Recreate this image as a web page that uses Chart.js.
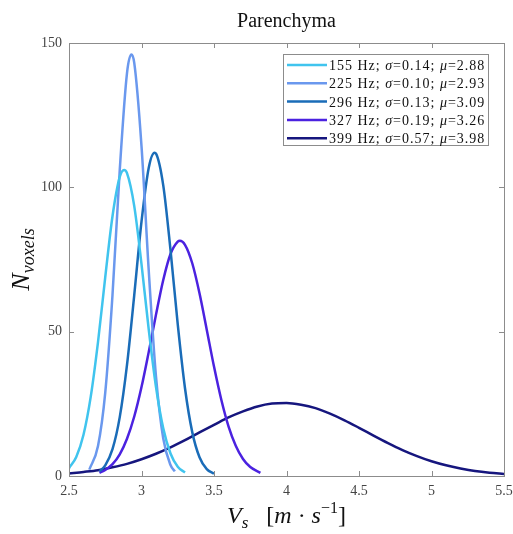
<!DOCTYPE html>
<html>
<head>
<meta charset="utf-8">
<script src="https://cdn.jsdelivr.net/npm/chart.js@4.4.1/dist/chart.umd.min.js"></script>
<style>
  html, body { margin: 0; padding: 0; background: #fff; }
  #wrap { width: 513px; height: 534px; }
</style>
</head>
<body>
<div id="wrap"><canvas id="chart"></canvas></div>
<script>
// legend info
const freqs = [155, 225, 296, 327, 399];
const sigmas = ['0.14', '0.10', '0.13', '0.19', '0.57'];
const mus = ['2.88', '2.93', '3.09', '3.26', '3.98'];
const colors = ['#40c4ee', '#6a98ee', '#1a6cb8', '#4b22e0', '#16167e'];

// curves (Vs in m/s, voxel count)
const vs155 = [2.50, 2.55, 2.60, 2.65, 2.70, 2.75, 2.80, 2.85, 2.88, 2.90, 2.95, 3.00, 3.05, 3.10, 3.15, 3.20, 3.25, 3.30];
const n155  = [2.7, 6.6, 14.3, 27.5, 46.4, 68.9, 90.0, 103.6, 106.0, 104.9, 93.5, 73.4, 50.7, 30.8, 16.5, 7.8, 3.2, 1.2];

const vs225 = [2.64, 2.70, 2.75, 2.80, 2.85, 2.90, 2.93, 2.95, 3.00, 3.05, 3.10, 3.15, 3.20, 3.23];
const n225  = [2.2, 10.4, 28.9, 62.7, 106.0, 139.6, 146.0, 143.1, 114.3, 71.1, 34.4, 13.0, 3.8, 1.6];

const vs296 = [2.71, 2.75, 2.80, 2.85, 2.90, 2.95, 3.00, 3.05, 3.09, 3.10, 3.15, 3.20, 3.25, 3.30, 3.35, 3.40, 3.45, 3.50];
const n296  = [1.6, 3.7, 9.3, 20.4, 38.5, 62.7, 88.1, 106.8, 112.0, 111.7, 100.7, 78.3, 52.5, 30.4, 15.2, 6.5, 2.4, 0.8];

const vs327 = [2.71, 2.75, 2.80, 2.85, 2.90, 2.95, 3.00, 3.05, 3.10, 3.15, 3.20, 3.25, 3.265, 3.30, 3.35, 3.40, 3.45, 3.50, 3.55, 3.60, 3.65, 3.70, 3.75, 3.82];
const n327  = [1.1, 2.1, 4.1, 7.5, 12.9, 20.6, 30.8, 43.0, 55.9, 67.9, 76.9, 81.2, 81.5, 80.1, 73.7, 63.3, 50.7, 37.9, 26.5, 17.2, 10.5, 5.9, 3.1, 1.1];

const vs399 = [2.5, 2.6, 2.7, 2.8, 2.9, 3.0, 3.1, 3.2, 3.3, 3.4, 3.5, 3.6, 3.7, 3.8, 3.9, 4.0, 4.1, 4.2, 4.3, 4.4, 4.5, 4.6, 4.7, 4.8, 4.9, 5.0, 5.1, 5.2, 5.3, 5.4, 5.5];
const n399  = [0.9, 1.4, 2.0, 3.0, 4.2, 5.8, 7.7, 9.9, 12.4, 15.1, 17.7, 20.3, 22.4, 24.1, 25.1, 25.3, 24.7, 23.5, 21.6, 19.3, 16.7, 14.0, 11.4, 9.0, 6.9, 5.1, 3.7, 2.6, 1.7, 1.1, 0.7];

const xs = [vs155, vs225, vs296, vs327, vs399];
const ys = [n155, n225, n296, n327, n399];

const SERIF = '"Liberation Serif", "DejaVu Serif", serif';

// draw a row of text pieces with their own font and vertical shift
function drawRuns(ctx, runs, x, y, align) {
  let total = 0;
  runs.forEach(r => { ctx.font = r.font; total += ctx.measureText(r.t).width; });
  let cx = align === 'center' ? x - total / 2 : x;
  ctx.textAlign = 'left';
  ctx.textBaseline = 'alphabetic';
  runs.forEach(r => {
    ctx.font = r.font;
    ctx.fillText(r.t, cx, y + (r.dy || 0));
    cx += ctx.measureText(r.t).width;
  });
}

const decorPlugin = {
  id: 'decor',
  afterDraw(chart) {
    const { ctx, chartArea: a, scales } = chart;
    ctx.save();

    // box + inward ticks
    ctx.strokeStyle = '#8c8c8c';
    ctx.lineWidth = 1;
    ctx.strokeRect(a.left + 0.5, a.top + 0.5, a.right - a.left, a.bottom - a.top);
    ctx.beginPath();
    scales.x.ticks.forEach(t => {
      const px = Math.round(scales.x.getPixelForValue(t.value)) + 0.5;
      ctx.moveTo(px, a.bottom); ctx.lineTo(px, a.bottom - 5);
      ctx.moveTo(px, a.top); ctx.lineTo(px, a.top + 5);
    });
    scales.y.ticks.forEach(t => {
      const py = Math.round(scales.y.getPixelForValue(t.value)) + 0.5;
      ctx.moveTo(a.left, py); ctx.lineTo(a.left + 5, py);
      ctx.moveTo(a.right, py); ctx.lineTo(a.right - 5, py);
    });
    ctx.stroke();

    ctx.fillStyle = '#111';
    // title
    ctx.font = '20px ' + SERIF;
    ctx.textAlign = 'center';
    ctx.textBaseline = 'middle';
    ctx.fillText('Parenchyma', (a.left + a.right) / 2, 22);

    // x axis title
    drawRuns(ctx, [
      { t: 'V', font: 'italic 24px ' + SERIF },
      { t: 's', font: 'italic 17px ' + SERIF, dy: 5 },
      { t: '   [', font: '24px ' + SERIF },
      { t: 'm', font: 'italic 24px ' + SERIF },
      { t: ' · ', font: '24px ' + SERIF },
      { t: 's', font: 'italic 24px ' + SERIF },
      { t: '−1', font: '16px ' + SERIF, dy: -10 },
      { t: ']', font: '24px ' + SERIF }
    ], (a.left + a.right) / 2, 523, 'center');

    // y axis title
    ctx.save();
    ctx.translate(29, (a.top + a.bottom) / 2);
    ctx.rotate(-Math.PI / 2);
    drawRuns(ctx, [
      { t: 'N', font: 'italic 26px ' + SERIF },
      { t: 'voxels', font: 'italic 18px ' + SERIF, dy: 5 }
    ], 0, 0, 'center');
    ctx.restore();

    // legend
    const bx = 283, by = 54, bw = 205, bh = 91;
    ctx.fillStyle = '#fff';
    ctx.fillRect(bx, by, bw, bh);
    ctx.lineWidth = 1;
    ctx.strokeStyle = '#8c8c8c';
    ctx.strokeRect(bx + 0.5, by + 0.5, bw, bh);
    if ('letterSpacing' in ctx) ctx.letterSpacing = '1px';
    chart.data.datasets.forEach((ds, i) => {
      const ry = by + 11 + i * 18.3;
      ctx.strokeStyle = ds.borderColor;
      ctx.lineWidth = 2.5;
      ctx.beginPath();
      ctx.moveTo(bx + 4, ry); ctx.lineTo(bx + 44, ry);
      ctx.stroke();
      ctx.fillStyle = '#111';
      drawRuns(ctx, [
        { t: freqs[i] + ' Hz; ', font: '14px ' + SERIF },
        { t: 'σ', font: 'italic 14px ' + SERIF },
        { t: '=' + sigmas[i] + '; ', font: '14px ' + SERIF },
        { t: 'μ', font: 'italic 14px ' + SERIF },
        { t: '=' + mus[i], font: '14px ' + SERIF }
      ], bx + 46, ry + 5, 'left');
    });
    ctx.restore();
  }
};

new Chart(document.getElementById('chart'), {
  type: 'line',
  data: {
    datasets: freqs.map((f, i) => ({
      label: f + ' Hz; σ=' + sigmas[i] + '; μ=' + mus[i],
      data: xs[i].map((v, j) => ({ x: v, y: ys[i][j] })),
      borderColor: colors[i],
      borderWidth: 2.5,
      pointRadius: 0,
      fill: false,
      cubicInterpolationMode: 'monotone'
    }))
  },
  options: {
    responsive: true,
    maintainAspectRatio: false,
    animation: false,
    layout: { padding: { top: 43, right: 9, left: 0, bottom: 0 } },
    plugins: {
      legend: { display: false },
      tooltip: { enabled: false }
    },
    scales: {
      x: {
        type: 'linear',
        min: 2.5,
        max: 5.5,
        afterFit(s) { s.height = 58; s.paddingLeft = 0; s.paddingRight = 0; },
        grid: { display: false, drawTicks: false },
        border: { display: false },
        ticks: {
          stepSize: 0.5, padding: 7, color: '#444',
          font: { family: SERIF, size: 14 },
          callback: v => String(v)
        }
      },
      y: {
        min: 0,
        max: 150,
        afterFit(s) { s.width = 69; s.paddingTop = 0; s.paddingBottom = 0; },
        grid: { display: false, drawTicks: false },
        border: { display: false },
        ticks: { stepSize: 50, padding: 7, color: '#444', font: { family: SERIF, size: 14 } }
      }
    }
  },
  plugins: [decorPlugin]
});
</script>
</body>
</html>
